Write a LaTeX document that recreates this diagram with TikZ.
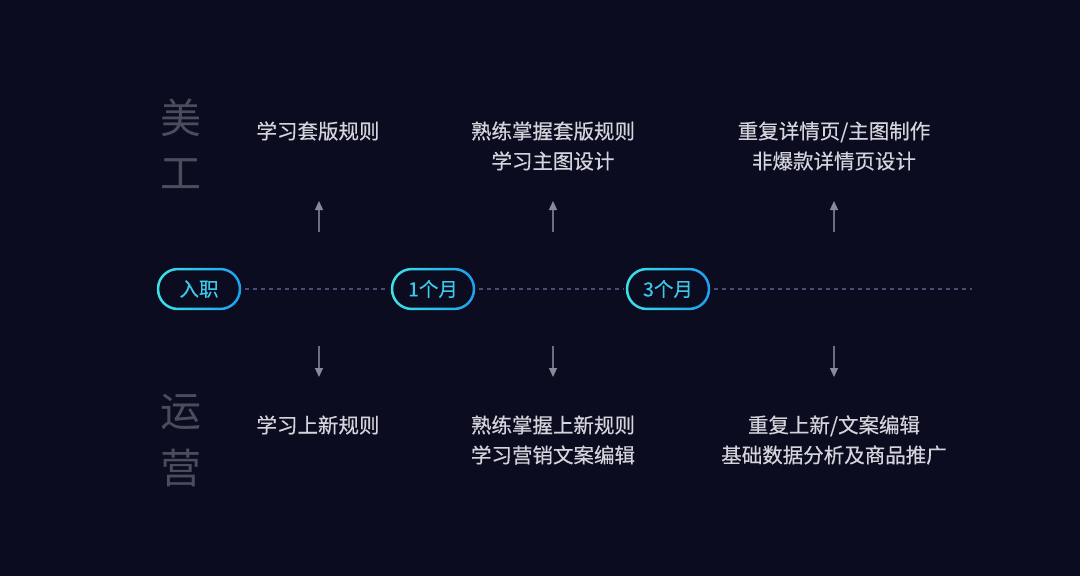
\documentclass[tikz,border=0pt]{standalone}
\usepackage{fontspec}
\newfontfamily\cjk{Noto Sans CJK SC}
\newfontfamily\cjkm[FakeBold=0.35]{Noto Sans CJK SC}
\usetikzlibrary{calc,arrows.meta}
\definecolor{bg}{HTML}{0B0C1F}
\definecolor{sidegray}{HTML}{4C4D5C}
\definecolor{txtgray}{HTML}{D4D4DC}
\definecolor{pillA}{HTML}{3DE2E6}
\definecolor{pillB}{HTML}{1C9FF0}
\definecolor{pilltxt}{HTML}{3CC8EA}
\definecolor{dotline}{HTML}{4A4C70}
\definecolor{arrowgray}{HTML}{6E6F7E}
\definecolor{tipgray}{HTML}{8A8B98}
\tikzset{
  side/.style={font=\cjk\fontsize{41}{41}\selectfont, text=sidegray, inner sep=0pt},
  desc/.style={font=\cjkm\fontsize{20.5}{30}\selectfont, text=txtgray, align=center, inner sep=0pt},
  pill/.style={font=\cjkm\fontsize{19.5}{19.5}\selectfont, text=pilltxt, minimum width=84pt, minimum height=42pt, inner sep=0pt},
  dots/.style={draw=dotline, line width=2pt, dash pattern=on 4pt off 4pt},
  arr/.style={draw=arrowgray, line width=1.2pt, -{Triangle[length=9pt,width=8pt,color=tipgray]}}
}
\newcommand{\pillring}[1]{%
  \shade[left color=pillA, right color=pillB, even odd rule]
    [rounded corners=21pt] ($(#1.south west)$) rectangle ($(#1.north east)$)
    [rounded corners=18.5pt] ($(#1.south west)+(2.5,-2.5)$) rectangle ($(#1.north east)+(-2.5,2.5)$);}
\begin{document}
\begin{tikzpicture}[x=1pt,y=-1pt]
\fill[bg] (0,0) rectangle (1080,576);
\useasboundingbox (0,0) rectangle (1080,576);
% side labels
\node[side] (mei) at (181,118) {美};
\node[side] (gong) at (181,174) {工};
\node[side] (yun) at (181,412) {运};
\node[side] (ying) at (181,468) {营};
% pills
\node[pill] (p1) at (199,289) {入职};
\node[pill] (p2) at (433,289) {1个月};
\node[pill] (p3) at (668,289) {3个月};
\coordinate (lineend) at (972,289);
\draw[dots] ($(p1.east)+(4,0)$) -- ($(p2.west)+(-2,0)$);
\draw[dots] ($(p2.east)+(4,0)$) -- ($(p3.west)+(-2,0)$);
\draw[dots] ($(p3.east)+(4,0)$) -- (lineend);
\pillring{p1}
\pillring{p2}
\pillring{p3}
% top texts
\node[desc] (t1) at (318,131) {学习套版规则};
\node[desc] (t2) at (553,146) {熟练掌握套版规则\\学习主图设计};
\node[desc] (t3) at (834,146) {重复详情页/主图制作\\非爆款详情页设计};
% bottom texts
\node[desc] (b1) at (318,425) {学习上新规则};
\node[desc] (b2) at (553,440) {熟练掌握上新规则\\学习营销文案编辑};
\node[desc] (b3) at (834,440) {重复上新/文案编辑\\基础数据分析及商品推广};
% arrows
\coordinate (u1s) at (319,232); \coordinate (u1e) at (319,201);
\coordinate (u2s) at (553,232); \coordinate (u2e) at (553,201);
\coordinate (u3s) at (834,232); \coordinate (u3e) at (834,201);
\coordinate (d1s) at (319,346); \coordinate (d1e) at (319,377);
\coordinate (d2s) at (553,346); \coordinate (d2e) at (553,377);
\coordinate (d3s) at (834,346); \coordinate (d3e) at (834,377);
\draw[arr] (u1s) -- (u1e);
\draw[arr] (u2s) -- (u2e);
\draw[arr] (u3s) -- (u3e);
\draw[arr] (d1s) -- (d1e);
\draw[arr] (d2s) -- (d2e);
\draw[arr] (d3s) -- (d3e);
\end{tikzpicture}
\end{document}
